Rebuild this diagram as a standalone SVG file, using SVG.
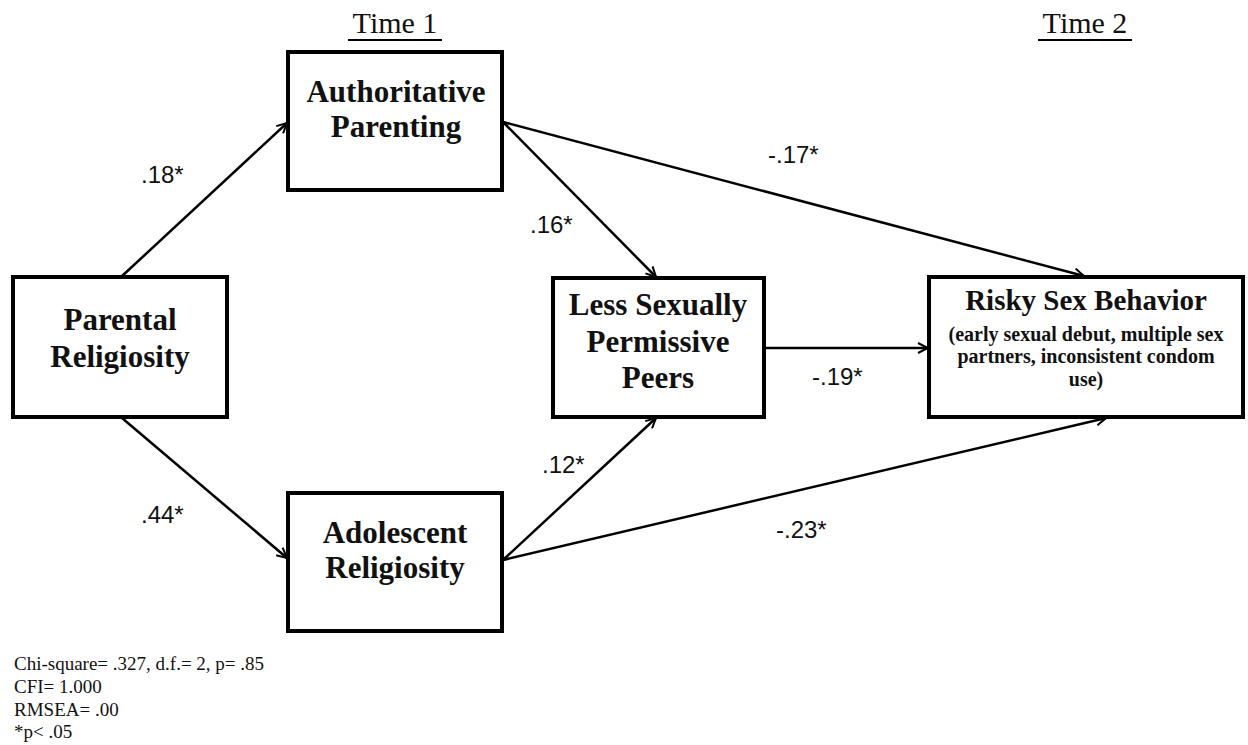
<svg xmlns="http://www.w3.org/2000/svg" width="1248" height="745" viewBox="0 0 1248 745">
<style>
.box{fill:#fff;stroke:#000;stroke-width:4}
.node{font-family:"Liberation Serif","Times New Roman",serif;font-weight:bold;font-size:31px;text-anchor:middle;fill:#111}
.sub{font-family:"Liberation Serif","Times New Roman",serif;font-weight:bold;font-size:20px;text-anchor:middle;fill:#111}
.edge{stroke:#000;stroke-width:2.5;fill:none;marker-end:url(#ah)}
.lbl{font-family:"Liberation Sans",Arial,sans-serif;font-size:24px;fill:#111}
.time{font-family:"Liberation Serif","Times New Roman",serif;font-size:30px;text-anchor:middle;fill:#111}
.stat{font-family:"Liberation Serif","Times New Roman",serif;font-size:19px;fill:#111}
</style>
<defs>
<marker id="ah" viewBox="0 0 12 12" refX="11" refY="6" markerWidth="12" markerHeight="12" markerUnits="userSpaceOnUse" orient="auto">
<path d="M1,1 L11,6 L1,11" fill="none" stroke="#000" stroke-width="2"/>
</marker>
</defs>
<rect width="1248" height="745" fill="#fff"/>
<g id="headers">
<text class="time" x="395" y="33">Time 1</text>
<line x1="348" y1="40" x2="442" y2="40" stroke="#000" stroke-width="2"/>
<text class="time" x="1085" y="33">Time 2</text>
<line x1="1038" y1="40" x2="1132" y2="40" stroke="#000" stroke-width="2"/>
</g>
<g id="connectors">
<line class="edge" x1="121" y1="277" x2="287" y2="123"/>
<line class="edge" x1="122" y1="418" x2="287" y2="558"/>
<line class="edge" x1="503" y1="122" x2="656" y2="277"/>
<line class="edge" x1="503" y1="122" x2="1084" y2="276"/>
<line class="edge" x1="503" y1="560" x2="656" y2="418"/>
<line class="edge" x1="503" y1="560" x2="1106" y2="418"/>
<line class="edge" x1="764" y1="348" x2="928" y2="348"/>
</g>
<g id="edge-labels">
<text class="lbl" x="141" y="183">.18*</text>
<text class="lbl" x="141" y="523">.44*</text>
<text class="lbl" x="530" y="233">.16*</text>
<text class="lbl" x="542" y="473">.12*</text>
<text class="lbl" x="768" y="163">-.17*</text>
<text class="lbl" x="812" y="385">-.19*</text>
<text class="lbl" x="776" y="538">-.23*</text>
</g>
<g id="parental">
<rect class="box" x="13" y="277" width="214" height="140"/>
<text class="node" x="120" y="330">Parental</text>
<text class="node" x="120" y="367">Religiosity</text>
</g>
<g id="authoritative">
<rect class="box" x="288" y="52" width="214" height="138"/>
<text class="node" x="396" y="102">Authoritative</text>
<text class="node" x="396" y="137">Parenting</text>
</g>
<g id="adolescent">
<rect class="box" x="288" y="493" width="214" height="138"/>
<text class="node" x="395" y="543">Adolescent</text>
<text class="node" x="395" y="578">Religiosity</text>
</g>
<g id="peers">
<rect class="box" x="553" y="278" width="211" height="139"/>
<text class="node" x="658" y="315">Less Sexually</text>
<text class="node" x="658" y="352">Permissive</text>
<text class="node" x="658" y="388">Peers</text>
</g>
<g id="risky">
<rect class="box" x="929" y="277" width="314" height="140"/>
<text class="node" x="1086" y="310" style="font-size:29px">Risky Sex Behavior</text>
<text class="sub" x="1086" y="341">(early sexual debut, multiple sex</text>
<text class="sub" x="1086" y="363">partners, inconsistent condom</text>
<text class="sub" x="1086" y="386">use)</text>
</g>
<g id="stats">
<text class="stat" x="14" y="670">Chi-square= .327, d.f.= 2, p= .85</text>
<text class="stat" x="14" y="693">CFI= 1.000</text>
<text class="stat" x="14" y="716">RMSEA= .00</text>
<text class="stat" x="14" y="738">*p&lt; .05</text>
</g>
</svg>
